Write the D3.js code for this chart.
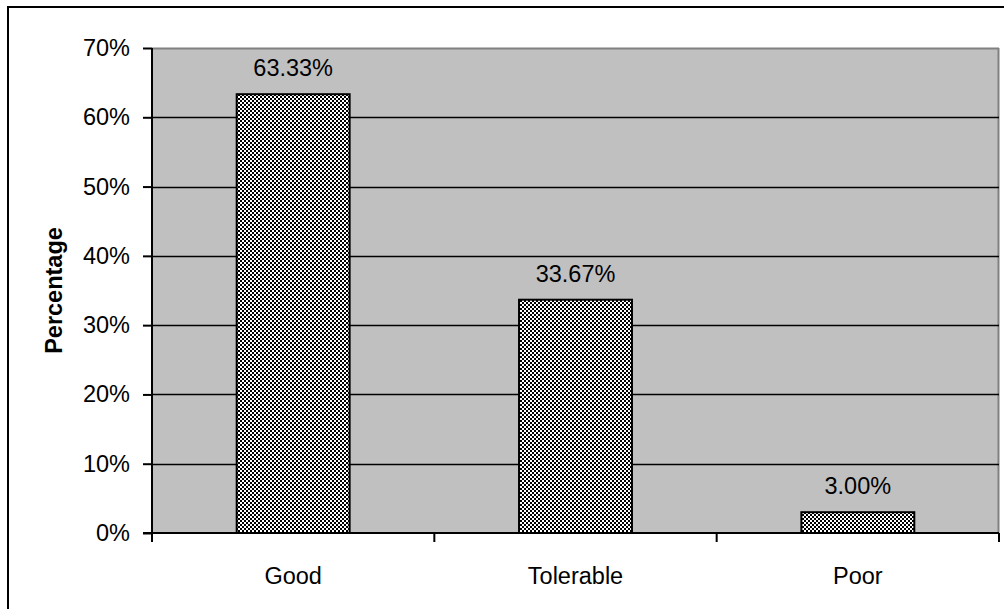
<!DOCTYPE html>
<html>
<head>
<meta charset="utf-8">
<script src="https://cdn.jsdelivr.net/npm/d3@7"></script>
<style>
  html, body { margin: 0; padding: 0; background: #fff; }
  svg { display: block; font-family: "Liberation Sans", Arial, sans-serif; }
</style>
</head>
<body>
<svg id="chart" width="1004" height="609"></svg>
<script>
// Survey rating shares
const categories = ["Good", "Tolerable", "Poor"];
const values = [63.33, 33.67, 3.00];
const yTicks = [0, 10, 20, 30, 40, 50, 60, 70];
const yTitle = "Percentage";

const svg = d3.select("#chart");
const margin = { left: 152, top: 48, right: 5, bottom: 76 };
const W = 1004, H = 609;
const pw = W - margin.left - margin.right;
const ph = H - margin.top - margin.bottom;
const FS = 23.5;

// Outer chart frame (right/bottom edges run past the page)
svg.append("rect")
  .attr("x", 8).attr("y", 7).attr("width", 1010).attr("height", 620)
  .attr("fill", "#fff").attr("stroke", "#000").attr("stroke-width", 2);

// Checkerboard fill for bars
const defs = svg.append("defs");
const pat = defs.append("pattern")
  .attr("id", "checker").attr("patternUnits", "userSpaceOnUse")
  .attr("width", 4).attr("height", 4);
pat.append("rect").attr("width", 4).attr("height", 4).attr("fill", "#fff");
pat.append("rect").attr("x", 0).attr("y", 0).attr("width", 2).attr("height", 2).attr("fill", "#000");
pat.append("rect").attr("x", 2).attr("y", 2).attr("width", 2).attr("height", 2).attr("fill", "#000");

const g = svg.append("g").attr("transform", `translate(${margin.left},${margin.top})`);

const x = d3.scaleBand().domain(categories).range([0, pw]).paddingInner(0).paddingOuter(0);
const y = d3.scaleLinear().domain([0, 70]).range([ph, 0]);

// Plot area
g.append("rect").attr("x", 0).attr("y", 0).attr("width", pw).attr("height", ph)
  .attr("fill", "#c0c0c0");
g.append("line").attr("x1", 0).attr("x2", pw).attr("y1", 0.5).attr("y2", 0.5)
  .attr("stroke", "#808080").attr("stroke-width", 2);
g.append("line").attr("x1", pw - 0.5).attr("x2", pw - 0.5).attr("y1", 0).attr("y2", ph)
  .attr("stroke", "#808080").attr("stroke-width", 2);

// Gridlines
g.selectAll("line.grid").data(yTicks.filter(t => t > 0 && t < 70)).join("line")
  .attr("class", "grid")
  .attr("x1", 0).attr("x2", pw)
  .attr("y1", d => Math.round(y(d)) + 0.5).attr("y2", d => Math.round(y(d)) + 0.5)
  .attr("stroke", "#000").attr("stroke-width", 1.6);

// Bars
const bw = x.bandwidth() * 0.4;
g.selectAll("rect.bar").data(values).join("rect")
  .attr("class", "bar")
  .attr("x", (d, i) => x(categories[i]) + (x.bandwidth() - bw) / 2)
  .attr("y", d => y(d))
  .attr("width", bw)
  .attr("height", d => ph - y(d))
  .attr("fill", "url(#checker)")
  .attr("stroke", "#000").attr("stroke-width", 2);

// Value labels
g.selectAll("text.val").data(values).join("text")
  .attr("class", "val")
  .attr("x", (d, i) => x(categories[i]) + x.bandwidth() / 2)
  .attr("y", d => y(d) - 18)
  .attr("text-anchor", "middle")
  .attr("font-size", FS)
  .attr("fill", "#000")
  .text(d => d.toFixed(2) + "%");

// Y axis
const yAxis = g.append("g").call(d3.axisLeft(y).tickValues(yTicks)
  .tickFormat(d => d + "%").tickSize(9).tickPadding(13));
yAxis.select(".domain").attr("stroke", "#000").attr("stroke-width", 2)
  .attr("d", `M0,0V${ph}`);
yAxis.selectAll(".tick line").attr("stroke", "#000").attr("stroke-width", 2);
yAxis.selectAll(".tick text").attr("font-size", FS).attr("fill", "#000")
  .attr("font-family", "Liberation Sans, Arial, sans-serif");

// X axis baseline and category dividers
const xg = g.append("g").attr("transform", `translate(0,${ph})`);
xg.append("line").attr("x1", -9).attr("x2", pw).attr("y1", 0).attr("y2", 0)
  .attr("stroke", "#000").attr("stroke-width", 2);
const bounds = categories.map(c => x(c)).concat([x(categories[categories.length - 1]) + x.bandwidth()]);
xg.selectAll("line.div").data(bounds).join("line")
  .attr("class", "div")
  .attr("x1", d => d).attr("x2", d => d)
  .attr("y1", 0).attr("y2", 9)
  .attr("stroke", "#000").attr("stroke-width", 2);
xg.selectAll("text.cat").data(categories).join("text")
  .attr("class", "cat")
  .attr("x", d => x(d) + x.bandwidth() / 2)
  .attr("y", 51)
  .attr("text-anchor", "middle")
  .attr("font-size", FS)
  .attr("fill", "#000")
  .text(d => d);

// Y axis title
svg.append("text")
  .attr("transform", `translate(62,${margin.top + ph / 2}) rotate(-90)`)
  .attr("text-anchor", "middle")
  .attr("font-size", FS)
  .attr("font-weight", "bold")
  .attr("fill", "#000")
  .text(yTitle);
</script>
</body>
</html>
